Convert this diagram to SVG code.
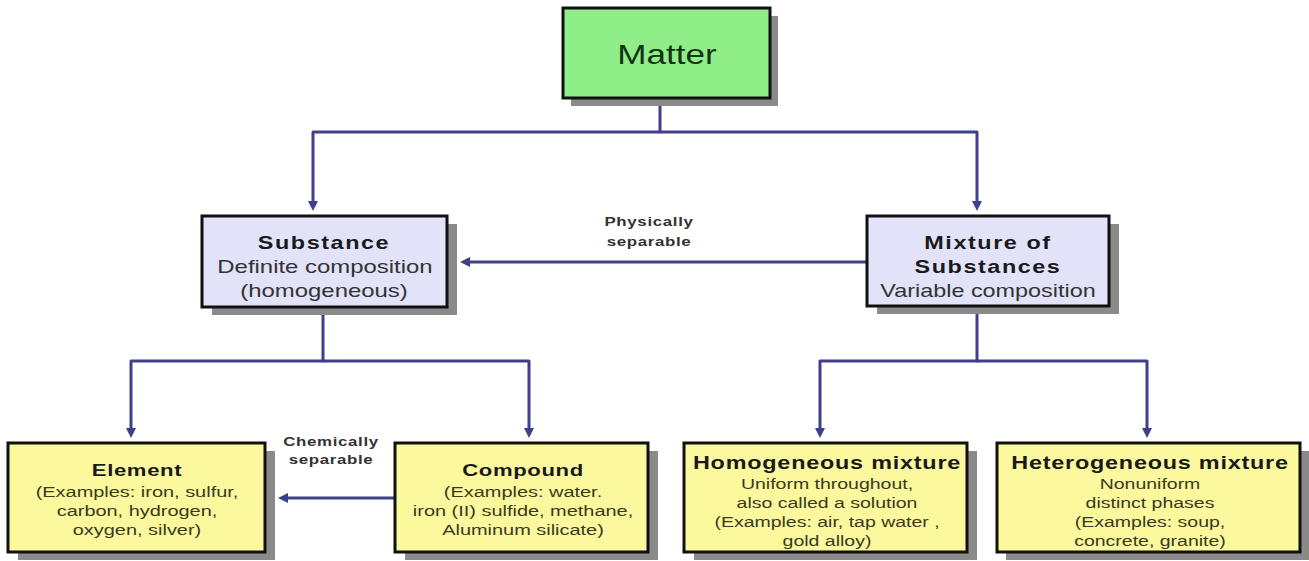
<svg xmlns="http://www.w3.org/2000/svg" width="1309" height="561" viewBox="0 0 1309 561">
<style>
.bg{fill:#ffffff}
.shadow{fill:#8a8a8a}
.box{stroke:#111;stroke-width:3}
.green{fill:#90ee88}
.lav{fill:#e2e2f8}
.yel{fill:#fbf89e}
text{font-family:"Liberation Sans",Arial,sans-serif;text-anchor:middle}
.t1{font-size:27px;fill:#143214}
.t2{font-size:18px;font-weight:bold;fill:#1a1a1a;letter-spacing:1.2px}
.s2{font-size:18px;fill:#333}
.t3{font-size:17px;font-weight:bold;fill:#1a1a1a;letter-spacing:0.5px}
.t3b{font-size:18px;font-weight:bold;fill:#1a1a1a;letter-spacing:0.6px}
.s3{font-size:15px;fill:#3a3a20}
.lbl{font-size:13px;font-weight:bold;fill:#333;letter-spacing:0.5px}
.conn{fill:none;stroke:#3f3f8c;stroke-width:3;stroke-linejoin:round}
</style>
<defs>
<marker id="ah" markerWidth="10" markerHeight="10" refX="2" refY="5" orient="auto" markerUnits="userSpaceOnUse">
<path d="M0,0 L10,5 L0,10 z" fill="#3f3f8c"/>
</marker>
</defs>
<rect class="bg" width="1309" height="561"/>

<g id="connectors">
<path class="conn" d="M660 98 V132 H313 V203" marker-end="url(#ah)"/>
<path class="conn" d="M660 132 H977 V203" marker-end="url(#ah)"/>
<path class="conn" d="M867 262 H468" marker-end="url(#ah)"/>
<path class="conn" d="M323 307 V361 H131 V430" marker-end="url(#ah)"/>
<path class="conn" d="M323 361 H529 V430" marker-end="url(#ah)"/>
<path class="conn" d="M977 306 V361 H820 V430" marker-end="url(#ah)"/>
<path class="conn" d="M977 361 H1147 V430" marker-end="url(#ah)"/>
<path class="conn" d="M395 498 H286" marker-end="url(#ah)"/>
<text class="lbl" transform="translate(649 0) scale(1.3 1)" x="0" y="226">Physically</text>
<text class="lbl" transform="translate(649 0) scale(1.3 1)" x="0" y="246">separable</text>
<text class="lbl" transform="translate(331 0) scale(1.3 1)" x="0" y="446">Chemically</text>
<text class="lbl" transform="translate(331 0) scale(1.3 1)" x="0" y="464">separable</text>
</g>

<g id="matter">
<rect class="shadow" x="571" y="16" width="207" height="90"/>
<rect class="box green" x="563" y="8" width="207" height="90"/>
<text class="t1" transform="translate(667 0) scale(1.3 1)" x="0" y="64">Matter</text>
</g>

<g id="substance">
<rect class="shadow" x="212" y="224" width="245" height="91"/>
<rect class="box lav" x="202" y="216" width="245" height="91"/>
<text class="t2" transform="translate(324 0) scale(1.3 1)" x="0" y="249">Substance</text>
<text class="s2" transform="translate(325 0) scale(1.33 1)" x="0" y="273">Definite composition</text>
<text class="s2" transform="translate(324 0) scale(1.33 1)" x="0" y="297">(homogeneous)</text>
</g>

<g id="mixture">
<rect class="shadow" x="877" y="224" width="242" height="90"/>
<rect class="box lav" x="867" y="216" width="242" height="90"/>
<text class="t2" transform="translate(988 0) scale(1.3 1)" x="0" y="249">Mixture of</text>
<text class="t2" transform="translate(988 0) scale(1.3 1)" x="0" y="273">Substances</text>
<text class="s2" transform="translate(988 0) scale(1.3 1)" x="0" y="297">Variable composition</text>
</g>

<g id="element">
<rect class="shadow" x="18" y="451" width="257" height="109"/>
<rect class="box yel" x="8" y="443" width="257" height="109"/>
<text class="t3" transform="translate(137 0) scale(1.3 1)" x="0" y="476">Element</text>
<text class="s3" transform="translate(137 0) scale(1.33 1)" x="0" y="497">(Examples:  iron, sulfur,</text>
<text class="s3" transform="translate(137 0) scale(1.33 1)" x="0" y="516">carbon, hydrogen,</text>
<text class="s3" transform="translate(137 0) scale(1.33 1)" x="0" y="535">oxygen, silver)</text>
</g>

<g id="compound">
<rect class="shadow" x="405" y="451" width="253" height="109"/>
<rect class="box yel" x="395" y="443" width="253" height="109"/>
<text class="t3" transform="translate(523 0) scale(1.3 1)" x="0" y="476">Compound</text>
<text class="s3" transform="translate(523 0) scale(1.33 1)" x="0" y="497">(Examples:  water.</text>
<text class="s3" transform="translate(523 0) scale(1.33 1)" x="0" y="516">iron (II) sulfide, methane,</text>
<text class="s3" transform="translate(523 0) scale(1.33 1)" x="0" y="535">Aluminum silicate)</text>
</g>

<g id="homogeneous">
<rect class="shadow" x="694" y="451" width="283" height="109"/>
<rect class="box yel" x="684" y="443" width="283" height="109"/>
<text class="t3b" transform="translate(827 0) scale(1.3 1)" x="0" y="469">Homogeneous mixture</text>
<text class="s3" transform="translate(827 0) scale(1.3 1)" x="0" y="489">Uniform  throughout,</text>
<text class="s3" transform="translate(827 0) scale(1.3 1)" x="0" y="508">also called a solution</text>
<text class="s3" transform="translate(827 0) scale(1.3 1)" x="0" y="527">(Examples:  air, tap water ,</text>
<text class="s3" transform="translate(827 0) scale(1.3 1)" x="0" y="546">gold alloy)</text>
</g>

<g id="heterogeneous">
<rect class="shadow" x="1006" y="451" width="303" height="109"/>
<rect class="box yel" x="997" y="443" width="303" height="109"/>
<text class="t3b" transform="translate(1150 0) scale(1.3 1)" x="0" y="469">Heterogeneous mixture</text>
<text class="s3" transform="translate(1150 0) scale(1.3 1)" x="0" y="489">Nonuniform</text>
<text class="s3" transform="translate(1150 0) scale(1.3 1)" x="0" y="508">distinct phases</text>
<text class="s3" transform="translate(1150 0) scale(1.3 1)" x="0" y="527">(Examples:  soup,</text>
<text class="s3" transform="translate(1150 0) scale(1.3 1)" x="0" y="546">concrete, granite)</text>
</g>
</svg>
